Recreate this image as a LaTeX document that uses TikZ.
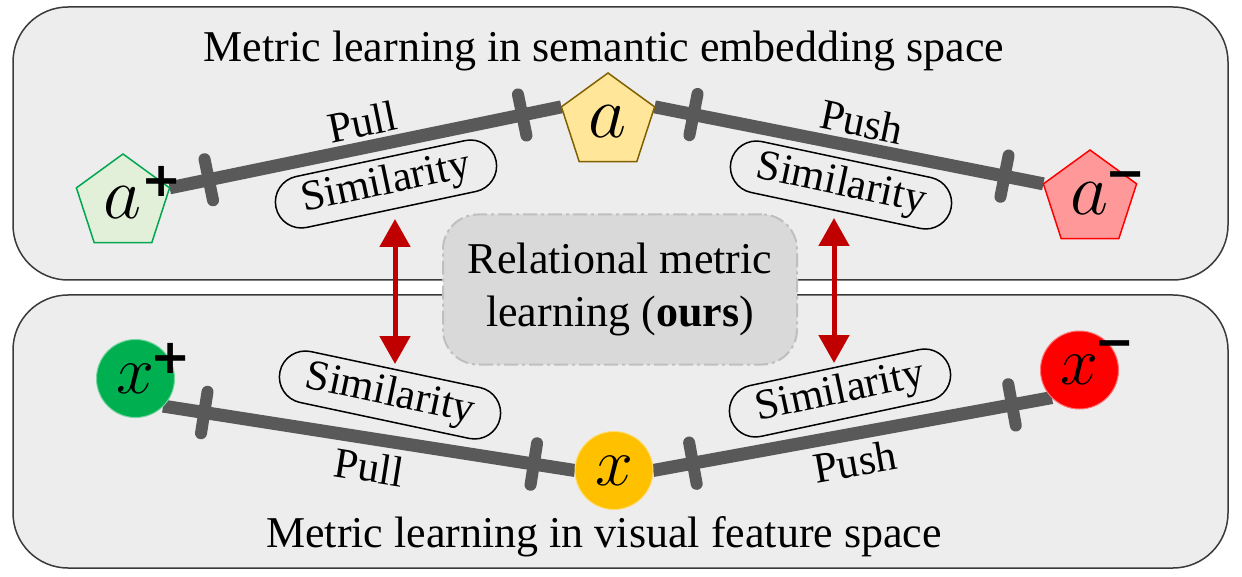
\RequirePackage{fix-cm}
\documentclass[tikz,border=0pt]{standalone}
\usepackage[no-math]{fontspec}
\setmainfont{Liberation Serif}
\newfontfamily\signfont{DejaVu Sans}
\usetikzlibrary{shapes.geometric,shapes.misc,arrows.meta,calc}
\pgfdeclarelayer{bg}
\pgfsetlayers{bg,main}
\definecolor{panelbg}{HTML}{EDEDED}
\definecolor{panelline}{HTML}{3A3A3A}
\definecolor{barcol}{HTML}{595959}
\definecolor{relfill}{HTML}{D9D9D9}
\definecolor{reldraw}{HTML}{BFBFBF}
\definecolor{apfill}{HTML}{E2F0D9}
\definecolor{apdraw}{HTML}{00A651}
\definecolor{afill}{HTML}{FFE699}
\definecolor{adraw}{HTML}{806000}
\definecolor{amfill}{HTML}{FF9999}
\definecolor{amdraw}{HTML}{FF0000}
\definecolor{xpfill}{HTML}{00B050}
\definecolor{xfill}{HTML}{FFC000}
\definecolor{xmfill}{HTML}{FF0000}
\definecolor{arrred}{HTML}{C00000}
\tikzset{
 panel/.style={draw=panelline, fill=panelbg, line width=1.5pt, rounded corners=55pt, minimum width=1215pt, minimum height=273pt, inner sep=0pt},
 titletext/.style={font=\fontsize{44}{53}\selectfont, anchor=base, inner sep=0pt},
 pent/.style={regular polygon, regular polygon sides=5, minimum size=98pt, inner sep=0pt, outer sep=0pt, line width=1.5pt, font=\fontsize{74}{74}\selectfont},
 dotnode/.style={circle, minimum size=78pt, inner sep=0pt, outer sep=0pt, line width=1pt, font=\fontsize{68}{68}\selectfont},
 signtext/.style={inner sep=0pt, font=\signfont\bfseries\fontsize{48}{48}\selectfont},
 barline/.style={draw=barcol, line width=13pt},
 tickmark/.style={draw=barcol, line width=12pt, line cap=round},
 pill/.style={rounded rectangle, draw=black, line width=1.5pt, minimum width=225pt, minimum height=52pt, inner sep=0pt, font=\fontsize{43}{43}\selectfont},
 lbl/.style={inner sep=0pt, font=\fontsize{43}{43}\selectfont},
 relbox/.style={draw=reldraw, fill=relfill, line width=2pt, dash pattern=on 14pt off 4pt on 3pt off 4pt, rounded corners=35pt, minimum width=354pt, minimum height=150pt, align=center, inner sep=0pt, font=\fontsize{44}{53}\selectfont},
 redarr/.style={draw=arrred, line width=5pt, {Triangle[length=28pt,width=30pt]}-{Triangle[length=28pt,width=30pt]}},
}
\newcommand\ticksAt[2]{%
 \draw[tickmark] ($(#1)!0.1!(#2)!21pt!90:(#2)$) -- ($(#1)!0.1!(#2)!21pt!-90:(#2)$);
 \draw[tickmark] ($(#1)!0.9!(#2)!21pt!90:(#2)$) -- ($(#1)!0.9!(#2)!21pt!-90:(#2)$);}
\begin{document}
\begin{tikzpicture}[x=1pt,y=-1pt]
\useasboundingbox (0,0) rectangle (1242,577);
\begin{pgfonlayer}{bg}
\node[panel] (toppanel) at (620.5,143.5) {};
\node[panel] (botpanel) at (620.5,431.5) {};
\end{pgfonlayer}
% titles
\node[titletext] (ttop) at (604,62) {Metric learning in semantic embedding space};
\node[titletext] (tbot) at (604,547) {Metric learning in visual feature space};
% semantic nodes
\node[pent, fill=apfill, draw=apdraw] (ap) at (123,203) {$a$};
\node[pent, fill=afill, draw=adraw] (an) at (608,122) {$a$};
\node[pent, fill=amfill, draw=amdraw] (am) at (1090,199) {$a$};
\node[signtext] (aps) at (162,181) {+};
\node[signtext] (ams) at (1126,181) {−};
% visual nodes
\node[dotnode, fill=xpfill, draw=xpfill!55!white] (xp) at (135.5,378.5) {$x$};
\node[dotnode, fill=xfill, draw=xfill!55!white] (xn) at (614,470.5) {$x$};
\node[dotnode, fill=xmfill, draw=xmfill!55!white] (xm) at (1079.5,370) {$x$};
\node[signtext] (xps) at (171,358) {+};
\node[signtext] (xms) at (1115,350) {−};
% bars
\coordinate (l1a) at (ap.corner 5);
\coordinate (l1b) at (an.corner 2);
\coordinate (l2a) at (an.corner 5);
\coordinate (l2b) at (am.corner 2);
\coordinate (l3a) at (xp.-45);
\coordinate (l3b) at (xn.west);
\coordinate (l4a) at (xn.east);
\coordinate (l4b) at (xm.-135);
\begin{pgfonlayer}{bg}
\draw[barline] (l1a) -- (l1b);
\draw[barline] (l2a) -- (l2b);
\draw[barline] (l3a) -- (l3b);
\draw[barline] (l4a) -- (l4b);
\ticksAt{l1a}{l1b}
\ticksAt{l2a}{l2b}
\ticksAt{l3a}{l3b}
\ticksAt{l4a}{l4b}
\end{pgfonlayer}
% pull / push
\node[lbl, rotate=11.7] (pull1) at (362,122) {Pull};
\node[lbl, rotate=-11.7] (push1) at (862,122) {Push};
\node[lbl, rotate=-9] (pull2) at (369,467) {Pull};
\node[lbl, rotate=10] (push2) at (855,462) {Push};
% similarity pills
\node[pill, rotate=12] (sTL) at (386,184) {Similarity};
\node[pill, rotate=-12] (sTR) at (841,185) {Similarity};
\node[pill, rotate=-12] (sBL) at (390,395) {Similarity};
\node[pill, rotate=12] (sBR) at (840,393) {Similarity};
% relational box
\node[relbox] (rel) at (620,289.5) {Relational metric\\learning (\textbf{ours})};
% arrows
\coordinate (arL1) at (395,219);
\coordinate (arL2) at (395,364);
\coordinate (arR1) at (834,218);
\coordinate (arR2) at (834,363);
\draw[redarr] (arL1) -- (arL2);
\draw[redarr] (arR1) -- (arR2);
\end{tikzpicture}
\end{document}
